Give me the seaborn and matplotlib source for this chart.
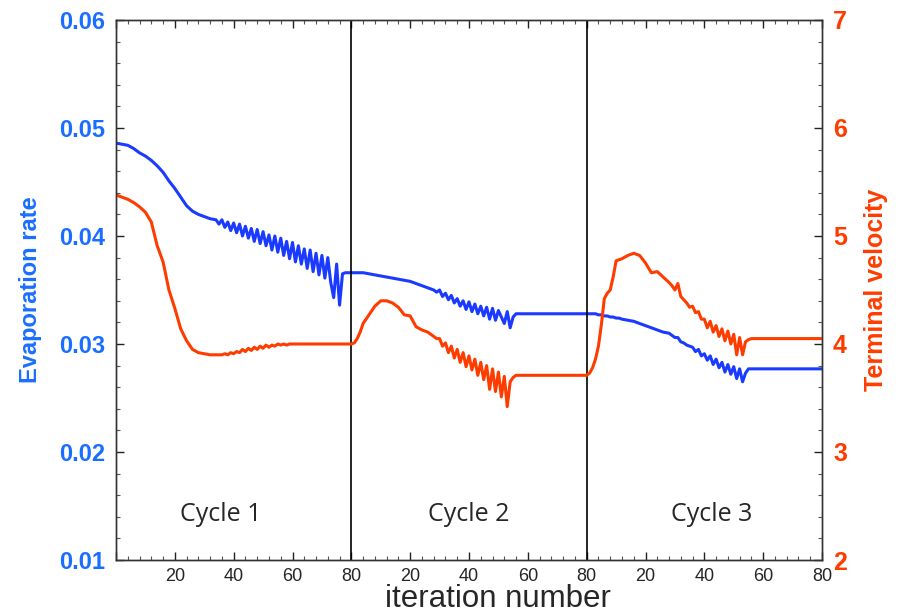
import numpy as np
import pandas as pd
import matplotlib
matplotlib.use('Agg')
import matplotlib.pyplot as plt
from matplotlib.ticker import MultipleLocator
import seaborn as sns

# iterations inside each cycle (80 iterations per cycle)
cyc1_iter = [0, 2, 4, 6, 8, 10, 12, 14, 16, 18, 20, 22, 24, 26, 28, 30, 32, 34] + list(range(35, 81))
cyc1_evap = [0.0486, 0.0485, 0.0484, 0.0481, 0.0477, 0.0474, 0.0470, 0.0465, 0.0459, 0.0451,
             0.0444, 0.0436, 0.0428, 0.0423, 0.0420, 0.0418, 0.0416, 0.0415,
             0.0411, 0.0415, 0.0408, 0.0413, 0.0405, 0.0412, 0.0403, 0.0411, 0.0400, 0.0409,
             0.0398, 0.0407, 0.0395, 0.0406, 0.0393, 0.0404, 0.0391, 0.0401, 0.0387, 0.0400,
             0.0385, 0.0398, 0.0382, 0.0395, 0.0379, 0.0394, 0.0376, 0.0391, 0.0374, 0.0388,
             0.0370, 0.0387, 0.0367, 0.0384, 0.0364, 0.0382, 0.0361, 0.0380, 0.0357, 0.0343,
             0.0374, 0.0336, 0.0365, 0.0366, 0.0366, 0.0366]
cyc1_vel = [5.38, 5.36, 5.34, 5.31, 5.27, 5.22, 5.13, 4.91, 4.76, 4.50,
            4.33, 4.14, 4.03, 3.95, 3.92, 3.91, 3.90, 3.90,
            3.90, 3.90, 3.91, 3.90, 3.92, 3.91, 3.93, 3.92, 3.95, 3.93,
            3.96, 3.94, 3.97, 3.95, 3.98, 3.96, 3.99, 3.97, 3.99, 3.98,
            4.00, 3.99, 4.00, 3.99, 4.00, 4.00, 4.00, 4.00, 4.00, 4.00,
            4.00, 4.00, 4.00, 4.00, 4.00, 4.00, 4.00, 4.00, 4.00, 4.00,
            4.00, 4.00, 4.00, 4.00, 4.00, 4.00]

cyc2_iter = [1, 2, 3, 4, 6, 8, 10, 12, 14, 16, 18, 20, 22, 24, 26, 28] + list(range(29, 59)) + list(range(60, 81, 2))
cyc2_evap = [0.0366, 0.0366, 0.0366, 0.0366, 0.0365, 0.0364, 0.0363, 0.0362, 0.0361, 0.0360,
             0.0359, 0.0358, 0.0356, 0.0354, 0.0352, 0.0350,
             0.0348, 0.0350, 0.0344, 0.0347, 0.0341, 0.0345, 0.0338, 0.0342, 0.0335, 0.0340,
             0.0332, 0.0339, 0.0330, 0.0337, 0.0328, 0.0335, 0.0326, 0.0334, 0.0323, 0.0333,
             0.0322, 0.0331, 0.0325, 0.0319, 0.0330, 0.0315, 0.0325, 0.0328, 0.0328, 0.0328,
             0.0328, 0.0328, 0.0328, 0.0328, 0.0328, 0.0328, 0.0328, 0.0328, 0.0328, 0.0328, 0.0328]
cyc2_vel = [4.01, 4.05, 4.11, 4.19, 4.27, 4.35, 4.40, 4.40, 4.38, 4.34,
            4.27, 4.26, 4.16, 4.13, 4.11, 4.07,
            4.05, 4.05, 3.98, 4.01, 3.92, 3.98, 3.87, 3.95, 3.83, 3.92,
            3.79, 3.89, 3.76, 3.86, 3.71, 3.83, 3.67, 3.80, 3.58, 3.77,
            3.56, 3.74, 3.51, 3.70, 3.42, 3.65, 3.69, 3.71, 3.71, 3.71,
            3.71, 3.71, 3.71, 3.71, 3.71, 3.71, 3.71, 3.71, 3.71, 3.71, 3.71]

cyc3_iter = list(range(1, 13)) + list(range(14, 29, 2)) + list(range(29, 59)) + list(range(60, 81, 2))
cyc3_evap = [0.0328, 0.0328, 0.0328, 0.0327, 0.0327, 0.0326, 0.0326, 0.0325, 0.0325, 0.0324,
             0.0324, 0.0323,
             0.0322, 0.0321, 0.0319, 0.0317, 0.0315, 0.0313, 0.0311, 0.0310,
             0.0308, 0.0306, 0.0306, 0.0302, 0.0301, 0.0299, 0.0298, 0.0297, 0.0293, 0.0295,
             0.0289, 0.0291, 0.0285, 0.0289, 0.0281, 0.0286, 0.0278, 0.0283, 0.0274, 0.0281,
             0.0272, 0.0279, 0.0268, 0.0277, 0.0265, 0.0273, 0.0277, 0.0277, 0.0277, 0.0277,
             0.0277, 0.0277, 0.0277, 0.0277, 0.0277, 0.0277, 0.0277, 0.0277, 0.0277, 0.0277, 0.0277]
cyc3_vel = [3.73, 3.78, 3.86, 3.98, 4.18, 4.42, 4.47, 4.50, 4.62, 4.77,
            4.78, 4.79,
            4.82, 4.84, 4.82, 4.75, 4.66, 4.67, 4.62, 4.57,
            4.54, 4.50, 4.56, 4.44, 4.41, 4.38, 4.34, 4.35, 4.29, 4.30,
            4.23, 4.23, 4.15, 4.21, 4.11, 4.17, 4.07, 4.14, 4.03, 4.12,
            4.00, 4.09, 3.90, 4.06, 3.90, 4.02, 4.04, 4.05, 4.05, 4.05,
            4.05, 4.05, 4.05, 4.05, 4.05, 4.05, 4.05, 4.05, 4.05, 4.05, 4.05]

cycle_names = ['Cycle 1', 'Cycle 2', 'Cycle 3']
cycle_label_x = [35.5, 120, 202.5]
x_tick_labels = ['', '20', '40', '60', '80', '20', '40', '60', '80', '20', '40', '60', '80']
evap_ticks = [0.01, 0.02, 0.03, 0.04, 0.05, 0.06]
vel_ticks = [2, 3, 4, 5, 6, 7]

BLUE = '#1a3bff'
BLUE_TXT = '#1a6eff'
RED = '#ff3c00'

df = pd.DataFrame({
    'iteration': np.concatenate([np.array(cyc1_iter), np.array(cyc2_iter) + 80, np.array(cyc3_iter) + 160]),
    'evap': np.concatenate([cyc1_evap, cyc2_evap, cyc3_evap]),
    'vel': np.concatenate([cyc1_vel, cyc2_vel, cyc3_vel]),
})

sns.set_style('ticks')
plt.rcParams['font.family'] = ['Liberation Sans', 'DejaVu Sans']

fig = plt.figure(figsize=(8.98, 6.13), dpi=100)
ax = fig.add_axes([116 / 898, 53 / 613, 706 / 898, 540 / 613])
ax2 = ax.twinx()

sns.lineplot(data=df, x='iteration', y='evap', ax=ax, color=BLUE, lw=2.2, estimator=None, sort=False)
sns.lineplot(data=df, x='iteration', y='vel', ax=ax2, color=RED, lw=2.2, estimator=None, sort=False)

ax.axvline(80, color='black', lw=1.2)
ax.axvline(160, color='black', lw=1.2)

ax.set_xlim(0, 240)
ax.set_ylim(0.01, 0.06)
ax2.set_ylim(2, 7)

ax.set_xticks(range(0, 241, 20), labels=x_tick_labels, fontsize=13)
ax.xaxis.set_minor_locator(MultipleLocator(4))
ax.set_yticks(evap_ticks, labels=[f'{v:.2f}' for v in evap_ticks], fontsize=17,
              fontweight='bold', color=BLUE_TXT)
ax.yaxis.set_minor_locator(MultipleLocator(0.002))
ax2.set_yticks(vel_ticks, labels=[str(v) for v in vel_ticks], fontsize=18,
               fontweight='bold', color=RED)
ax2.yaxis.set_minor_locator(MultipleLocator(0.2))

ax.tick_params(axis='x', which='both', direction='in', top=True, bottom=True, pad=6)
ax.tick_params(axis='y', which='both', direction='in', left=True, right=False, pad=8)
ax2.tick_params(axis='y', which='both', direction='in', right=True, left=False, pad=8)
for a in (ax, ax2):
    a.tick_params(which='major', length=6, width=1.0, color='#222222')
    a.tick_params(which='minor', length=3, width=0.8, color='#555555')
    for s in a.spines.values():
        s.set_color('#333333')
        s.set_linewidth(1.0)

ax.set_xlabel('iteration number', fontsize=22.5)
ax.xaxis.set_label_coords(0.541, -0.072, transform=ax.transAxes)
ax.xaxis.label.set_va('center')
ax.set_ylabel('Evaporation rate', fontsize=17, fontweight='bold', color=BLUE_TXT, labelpad=12)
ax2.set_ylabel('Terminal velocity', fontsize=18, fontweight='bold', color=RED, labelpad=12)

for name, cx in zip(cycle_names, cycle_label_x):
    ax.text(cx, 0.0142, name, fontsize=18, ha='center', va='center',
            family=['Open Sans', 'DejaVu Sans'])

fig.savefig('out.png', dpi=100)
